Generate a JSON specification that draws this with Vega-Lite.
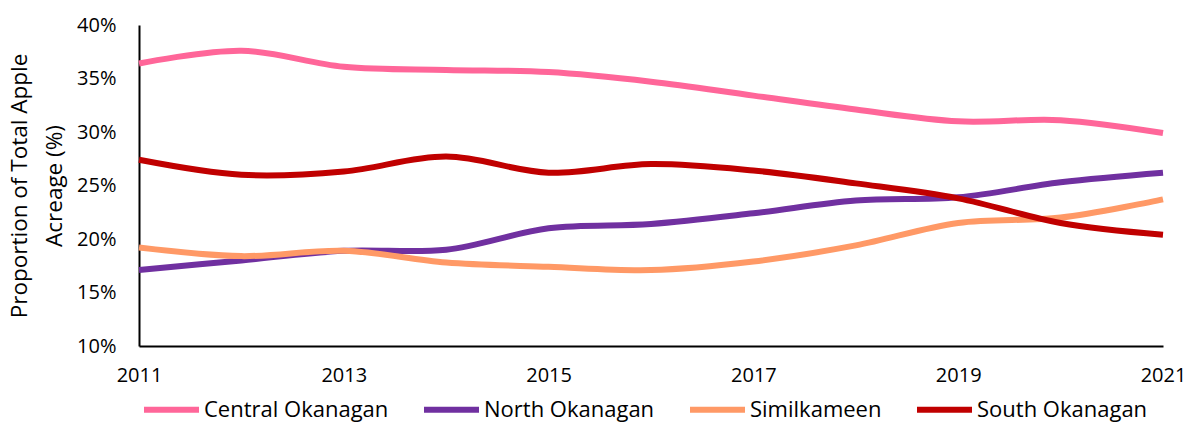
{
  "$schema": "https://vega.github.io/schema/vega-lite/v6.json",
  "autosize": "none",
  "width": 1024,
  "height": 321,
  "padding": {"left": 139, "top": 25, "right": 34, "bottom": 78},
  "background": "white",
  "config": {
    "view": {"stroke": null},
    "font": "Open Sans",
    "axis": {"grid": false, "ticks": false, "domainColor": "black", "domainWidth": 2, "labelColor": "black", "titleColor": "black", "labelFont": "Open Sans", "titleFont": "Open Sans", "titleFontWeight": "normal"}
  },
  "data": {
    "values": [
      {"year": 2011, "region": "Central Okanagan", "value": 36.4},
      {"year": 2012, "region": "Central Okanagan", "value": 37.6},
      {"year": 2013, "region": "Central Okanagan", "value": 36.1},
      {"year": 2014, "region": "Central Okanagan", "value": 35.8},
      {"year": 2015, "region": "Central Okanagan", "value": 35.6},
      {"year": 2016, "region": "Central Okanagan", "value": 34.7},
      {"year": 2017, "region": "Central Okanagan", "value": 33.4},
      {"year": 2018, "region": "Central Okanagan", "value": 32.1},
      {"year": 2019, "region": "Central Okanagan", "value": 31.0},
      {"year": 2020, "region": "Central Okanagan", "value": 31.1},
      {"year": 2021, "region": "Central Okanagan", "value": 29.9},
      {"year": 2011, "region": "North Okanagan", "value": 17.1},
      {"year": 2012, "region": "North Okanagan", "value": 18.0},
      {"year": 2013, "region": "North Okanagan", "value": 18.9},
      {"year": 2014, "region": "North Okanagan", "value": 19.0},
      {"year": 2015, "region": "North Okanagan", "value": 21.0},
      {"year": 2016, "region": "North Okanagan", "value": 21.4},
      {"year": 2017, "region": "North Okanagan", "value": 22.4},
      {"year": 2018, "region": "North Okanagan", "value": 23.6},
      {"year": 2019, "region": "North Okanagan", "value": 23.9},
      {"year": 2020, "region": "North Okanagan", "value": 25.3},
      {"year": 2021, "region": "North Okanagan", "value": 26.2},
      {"year": 2011, "region": "Similkameen", "value": 19.2},
      {"year": 2012, "region": "Similkameen", "value": 18.4},
      {"year": 2013, "region": "Similkameen", "value": 18.9},
      {"year": 2014, "region": "Similkameen", "value": 17.8},
      {"year": 2015, "region": "Similkameen", "value": 17.4},
      {"year": 2016, "region": "Similkameen", "value": 17.1},
      {"year": 2017, "region": "Similkameen", "value": 17.9},
      {"year": 2018, "region": "Similkameen", "value": 19.4},
      {"year": 2019, "region": "Similkameen", "value": 21.5},
      {"year": 2020, "region": "Similkameen", "value": 22.0},
      {"year": 2021, "region": "Similkameen", "value": 23.7},
      {"year": 2011, "region": "South Okanagan", "value": 27.4},
      {"year": 2012, "region": "South Okanagan", "value": 26.0},
      {"year": 2013, "region": "South Okanagan", "value": 26.3},
      {"year": 2014, "region": "South Okanagan", "value": 27.7},
      {"year": 2015, "region": "South Okanagan", "value": 26.2},
      {"year": 2016, "region": "South Okanagan", "value": 27.0},
      {"year": 2017, "region": "South Okanagan", "value": 26.4},
      {"year": 2018, "region": "South Okanagan", "value": 25.2},
      {"year": 2019, "region": "South Okanagan", "value": 23.8},
      {"year": 2020, "region": "South Okanagan", "value": 21.5},
      {"year": 2021, "region": "South Okanagan", "value": 20.4}
    ]
  },
  "mark": {"type": "line", "interpolate": "catmull-rom", "strokeWidth": 6, "strokeCap": "butt"},
  "encoding": {
    "x": {
      "field": "year", "type": "quantitative",
      "scale": {"domain": [2011, 2021], "nice": false, "zero": false},
      "axis": {"values": [2011, 2013, 2015, 2017, 2019, 2021], "format": "d", "title": null, "labelFontSize": 20, "labelPadding": 19, "labelFlush": false}
    },
    "y": {
      "field": "value", "type": "quantitative",
      "scale": {"domain": [10, 40], "nice": false, "zero": false},
      "axis": {"values": [10, 15, 20, 25, 30, 35, 40], "labelExpr": "datum.value + '%'", "labelFontSize": 20, "labelPadding": 23, "title": ["Proportion of Total Apple", "Acreage (%)"], "titleFontSize": 22.5, "titlePadding": 10, "titleLineHeight": 35}
    },
    "color": {
      "field": "region", "type": "nominal",
      "scale": {"domain": ["Central Okanagan", "North Okanagan", "Similkameen", "South Okanagan"], "range": ["#FF6699", "#7030A0", "#FF9966", "#C00000"]},
      "legend": {"title": null, "orient": "none", "direction": "horizontal", "legendX": 2, "legendY": 354, "symbolType": "stroke", "symbolSize": 3025, "symbolStrokeWidth": 6, "labelFontSize": 22, "labelLimit": 0, "labelFont": "Open Sans", "labelColor": "black", "columnPadding": 23, "labelOffset": 2}
    }
  }
}
